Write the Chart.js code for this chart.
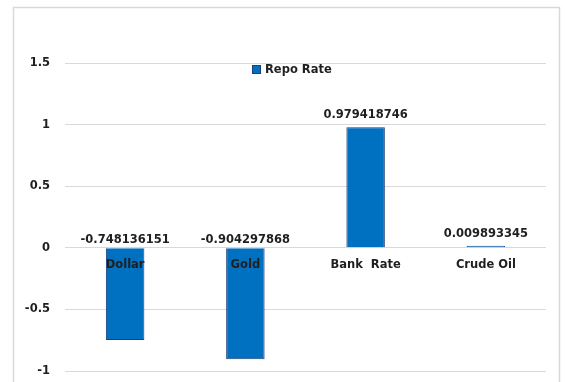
<!DOCTYPE html>
<html>
<head>
<meta charset="utf-8">
<script src="https://cdn.jsdelivr.net/npm/chart.js@4.4.0/dist/chart.umd.min.js"></script>
<style>
  html, body { margin: 0; padding: 0; background: #fff; }
  #wrap { width: 565px; height: 382px; }
</style>
</head>
<body>
<div id="wrap"><canvas id="chart" width="565" height="382"></canvas></div>
<script>
const categories = ['Dollar', 'Gold', 'Bank  Rate', 'Crude Oil'];
const repoRate = [-0.748136151, -0.904297868, 0.979418746, 0.009893345];
const valueLabels = ['-0.748136151', '-0.904297868', '0.979418746', '0.009893345'];
const seriesName = 'Repo Rate';

const FONT = '"DejaVu Sans", Verdana, sans-serif';
const TEXT = '#1f1f1f';
const FILL = '#0070C0';
const EDGE = '#1F3F7A';

// frame, legend, category + value labels
const decorations = {
    id: 'decorations',
    beforeDraw(chart) {
        const ctx = chart.ctx;
        ctx.save();
        ctx.strokeStyle = '#d9d9d9';
        ctx.lineWidth = 1.5;
        ctx.strokeRect(13.5, 7.5, 546, 400);
        ctx.restore();
    },
    afterDatasetsDraw(chart) {
        const ctx = chart.ctx;
        const x = chart.scales.x, y = chart.scales.y;
        const zero = y.getPixelForValue(0);
        const meta = chart.getDatasetMeta(0);
        ctx.save();
        ctx.font = 'bold 11.5px ' + FONT;
        ctx.fillStyle = TEXT;
        ctx.textAlign = 'center';

        // category names sit just under the zero line
        ctx.textBaseline = 'middle';
        categories.forEach((c, i) => {
            ctx.fillText(c, x.getPixelForValue(i), zero + 17);
        });

        // value labels
        ctx.textBaseline = 'bottom';
        meta.data.forEach((bar, i) => {
            const v = repoRate[i];
            const ly = v >= 0 ? bar.y - 6 : zero - 2;
            ctx.fillText(valueLabels[i], bar.x, ly);
        });

        // legend
        ctx.fillStyle = FILL;
        ctx.fillRect(252.5, 65.5, 8, 8);
        ctx.strokeStyle = EDGE;
        ctx.lineWidth = 1;
        ctx.strokeRect(252.5, 65.5, 8, 8);
        ctx.fillStyle = TEXT;
        ctx.textAlign = 'left';
        ctx.textBaseline = 'middle';
        ctx.fillText(seriesName, 265, 70);
        ctx.restore();
    }
};

new Chart(document.getElementById('chart').getContext('2d'), {
    type: 'bar',
    data: {
        labels: categories,
        datasets: [{
            label: seriesName,
            data: repoRate,
            backgroundColor: FILL,
            borderColor: EDGE,
            borderWidth: 1,
            minBarLength: 2,
            barPercentage: 0.32,
            categoryPercentage: 1
        }]
    },
    options: {
        responsive: false,
        animation: false,
        layout: { padding: { left: 0, right: 19, top: 63, bottom: 0 } },
        plugins: {
            legend: { display: false },
            tooltip: { enabled: false }
        },
        scales: {
            x: { display: false },
            y: {
                min: -1,
                max: 1.5,
                afterFit(scale) { scale.width = 65; },
                border: { display: false },
                grid: { color: '#d9d9d9', lineWidth: 1, drawTicks: true, tickLength: 11, tickColor: 'rgba(0,0,0,0)' },
                ticks: {
                    stepSize: 0.5,
                    padding: 4,
                    color: TEXT,
                    font: { family: FONT, size: 11.5, weight: 'bold' },
                    callback: v => String(v)
                }
            }
        }
    },
    plugins: [decorations]
});
</script>
</body>
</html>
